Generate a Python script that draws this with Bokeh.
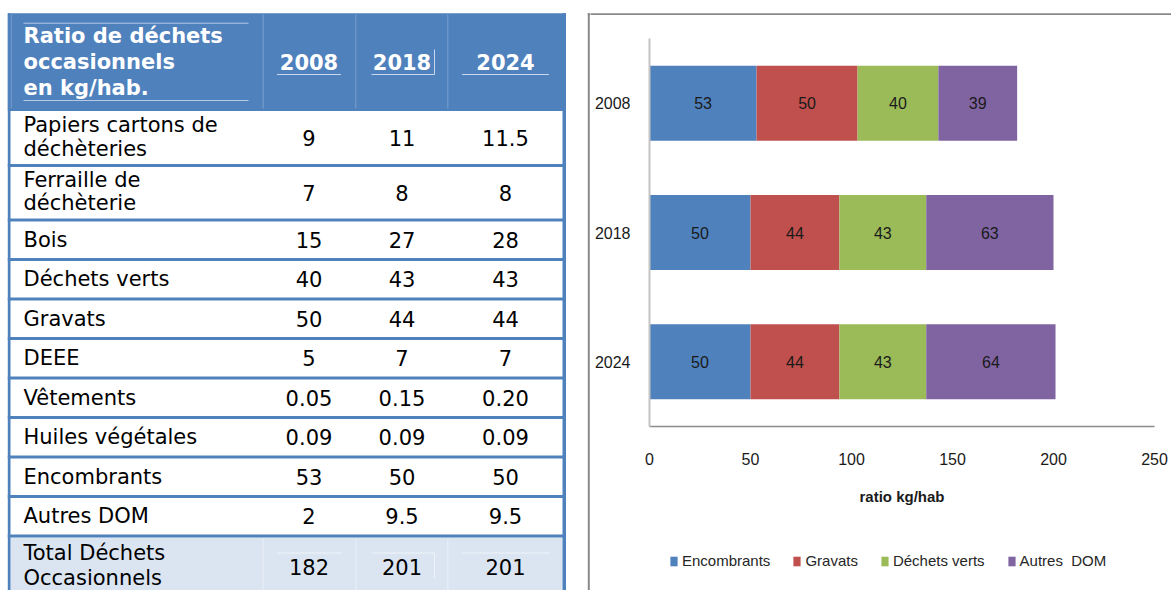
from bokeh.plotting import figure
from bokeh.models import (ColumnDataSource, Range1d, FactorRange, Legend, LegendItem, FixedTicker)
from bokeh.layouts import row, column
from bokeh.embed import file_html
from bokeh.resources import INLINE
from bokeh.core.properties import value

# ---------------- table data ----------------
table_title = ["Ratio de déchets", "occasionnels", "en kg/hab."]
years = ["2008", "2018", "2024"]
row_labels = [["Papiers cartons de", "déchèteries"], ["Ferraille de", "déchèterie"],
              ["Bois"], ["Déchets verts"], ["Gravats"], ["DEEE"], ["Vêtements"],
              ["Huiles végétales"], ["Encombrants"], ["Autres DOM"]]
vals_2008 = ["9", "7", "15", "40", "50", "5", "0.05", "0.09", "53", "2"]
vals_2018 = ["11", "8", "27", "43", "44", "7", "0.15", "0.09", "50", "9.5"]
vals_2024 = ["11.5", "8", "28", "43", "44", "7", "0.20", "0.09", "50", "9.5"]
total_label = ["Total Déchets", "Occasionnels"]
totals = ["182", "201", "201"]

# ---------------- chart data ----------------
chart_years = ["2008", "2018", "2024"]
encombrants = [53, 50, 50]
gravats = [50, 44, 44]
dechets_verts = [40, 43, 43]
autres_dom = [39, 63, 64]
series_names = ["Encombrants", "Gravats", "Déchets verts", "Autres  DOM"]
series_colors = ["#4f81bd", "#c0504d", "#9bbb59", "#8064a2"]

# ---------------- styling / layout ----------------
BLUE = "#4f81bd"
FRAME_GRAY = "#8a8a8a"
TABLE_FONT = "DejaVu Sans"
CHART_FONT = "Liberation Sans"
TW, TH = 590, 590          # table canvas (page x 0..590)
BW, BH = 581, 15           # top strip of the chart box (page y 0..15)
CW, CH = 581, 525          # chart canvas (page y 15..540)
LW, LH = 581, 50           # legend strip (page y 540..590)
BOX_X, BOX_Y = 588.3, 13.7
FS = "21px"
HEAD_LINE_H = 25.7
BODY_LINE_H = 23.5
CAP_OFF = 0.0
MULTI_OFF = -1.5
LEFT_EDGE, RIGHT_EDGE = 7.3, 565.5
HEAD_TOP, HEAD_BOT = 12.7, 110.5
ROW_H = {1: 39.5, 2: 54.5}
TOTAL_H = 61.0
LABEL_X = 23
COL_X = [308.5, 401.5, 505.0]
UNDER_HALF = [(32, 32), (30.5, 32.5), (43.5, 43.5)]
COL_SEP = [10.7, 262.7, 355.3, 447.3]


def blank(width, height, xr, yr):
    f = figure(width=width, height=height, x_range=xr, y_range=yr,
               x_axis_location=None, y_axis_location=None, output_backend="svg",
               toolbar_location=None, min_border=0, outline_line_color=None)
    f.grid.visible = False
    f.frame_align = False
    return f


# ================= TABLE FIGURE =================
t = blank(TW, TH, Range1d(0, TW), Range1d(TH, 0))

tops, bots = [], []
y = HEAD_BOT
for lab in row_labels:
    tops.append(y)
    y += ROW_H[len(lab)]
    bots.append(y)
total_top = y
total_bot = y + TOTAL_H

t.quad(left=[LEFT_EDGE], right=[RIGHT_EDGE], top=[HEAD_TOP], bottom=[HEAD_BOT],
       fill_color=BLUE, line_color=None)
t.quad(left=[10], right=[562], top=[total_top + 1.5], bottom=[TH + 10],
       fill_color="#dbe5f1", line_color=None)

t.segment(x0=COL_SEP, x1=COL_SEP, y0=[14] * 4, y1=[108] * 4, line_color="#7aa0cf", line_width=1)
t.segment(x0=[LABEL_X, LABEL_X], x1=[248, 248], y0=[22.7, 100], y1=[22.7, 100],
          line_color="#b4c9e6", line_width=1)
ux0 = [cx - a for cx, (a, b) in zip(COL_X, UNDER_HALF)]
ux1 = [cx + b for cx, (a, b) in zip(COL_X, UNDER_HALF)]
t.segment(x0=ux0, x1=ux1, y0=[74] * 3, y1=[74] * 3, line_color="#c9d8ee", line_width=1.2)
t.segment(x0=[ux1[1]], x1=[ux1[1]], y0=[49], y1=[74], line_color="#c9d8ee", line_width=1)

t.segment(x0=COL_SEP[1:], x1=COL_SEP[1:], y0=[total_top + 3] * 3, y1=[TH + 10] * 3,
          line_color="#e9eff7", line_width=1)
t.segment(x0=ux0, x1=ux1, y0=[total_top + 17] * 3, y1=[total_top + 17] * 3,
          line_color="#eef3fa", line_width=1.2)
t.segment(x0=[ux1[1]], x1=[ux1[1]], y0=[total_top + 17], y1=[total_top + 42],
          line_color="#eef3fa", line_width=1)

t.segment(x0=[LEFT_EDGE] * len(bots), x1=[RIGHT_EDGE] * len(bots), y0=bots, y1=bots,
          line_color=BLUE, line_width=3)
t.segment(x0=[8.65, 563.75], x1=[8.65, 563.75], y0=[HEAD_TOP, HEAD_TOP],
          y1=[TH + 10, TH + 10], line_color=BLUE, line_width=[2.7, 3.5])

# chart box: left edge and the start of its top edge
t.segment(x0=[BOX_X, BOX_X - 1], x1=[BOX_X, TW + 5], y0=[BOX_Y - 1, BOX_Y], y1=[TH + 10, BOX_Y],
          line_color=FRAME_GRAY, line_width=2)

hc = (HEAD_TOP + HEAD_BOT) / 2
n = len(table_title)
hy = [hc + CAP_OFF + (i - (n - 1) / 2) * HEAD_LINE_H for i in range(n)]
t.text(x=[LABEL_X] * n, y=hy, text=table_title, text_font=value(TABLE_FONT), text_font_size=FS,
       text_font_style="bold", text_color="white", text_align="left", text_baseline="alphabetic")
t.text(x=COL_X, y=[hc + CAP_OFF] * 3, text=years, text_font=value(TABLE_FONT), text_font_size=FS,
       text_font_style="bold", text_color="white", text_align="center", text_baseline="alphabetic")

lx, ly, lt = [], [], []
vx, vy, vt = [], [], []
all_labels = row_labels + [total_label]
all_tops = tops + [total_top]
all_bots = bots + [total_bot]
all_vals = [list(v) for v in zip(vals_2008, vals_2018, vals_2024)] + [totals]
for k, (lab, tp, bt, vals) in enumerate(zip(all_labels, all_tops, all_bots, all_vals)):
    c0 = (tp + bt) / 2
    n = len(lab)
    is_total = k == len(all_labels) - 1
    lh = 25.0 if is_total else BODY_LINE_H
    off = CAP_OFF if n == 1 else MULTI_OFF
    for i, s in enumerate(lab):
        lx.append(LABEL_X)
        ly.append(c0 + off + (i - (n - 1) / 2) * lh)
        lt.append(s)
    for cx, v in zip(COL_X, vals):
        vx.append(cx)
        vy.append(c0 + CAP_OFF)
        vt.append(v)
t.text(x=lx, y=ly, text=lt, text_font=value(TABLE_FONT), text_font_size=FS,
       text_color="black", text_align="left", text_baseline="alphabetic")
t.text(x=vx, y=vy, text=vt, text_font=value(TABLE_FONT), text_font_size=FS,
       text_color="black", text_align="center", text_baseline="alphabetic")

# ================= TOP STRIP (top edge of the chart box) =================
tb = blank(BW, BH, Range1d(TW, TW + BW), Range1d(BH, 0))
tb.segment(x0=[TW - 5], x1=[TW + BW + 5], y0=[BOX_Y], y1=[BOX_Y], line_color=FRAME_GRAY, line_width=2)

# ================= CHART FIGURE =================
c = figure(width=CW, height=CH, x_range=Range1d(0, 250),
           y_range=FactorRange(factors=chart_years[::-1]),
           output_backend="svg", toolbar_location=None,
           min_border_left=59, min_border_right=17, min_border_top=23, min_border_bottom=114,
           outline_line_color=None)
c.frame_align = False
c.xgrid.visible = False
c.ygrid.visible = False

src = ColumnDataSource(dict(year=chart_years, enc=encombrants, grav=gravats,
                            dv=dechets_verts, aut=autres_dom))
keys = ["enc", "grav", "dv", "aut"]
rs = c.hbar_stack(keys, y="year", height=0.58, fill_color=series_colors, line_color=None, source=src)

lab_x, lab_y, lab_t = [], [], []
for i, yr in enumerate(chart_years):
    left = 0
    for arr in (encombrants, gravats, dechets_verts, autres_dom):
        v = arr[i]
        lab_x.append(left + v / 2)
        lab_y.append(yr)
        lab_t.append(str(v))
        left += v
c.text(x=lab_x, y=lab_y, text=lab_t, text_align="center", text_baseline="middle",
       text_font=value(CHART_FONT), text_font_size="16px", text_color="#1a1a1a")

xa = c.xaxis[0]
xa.ticker = FixedTicker(ticks=[0, 50, 100, 150, 200, 250])
xa.major_tick_line_color = None
xa.minor_tick_line_color = None
xa.axis_line_color = "#8c8c8c"
xa.axis_line_width = 1.5
xa.major_label_text_font = CHART_FONT
xa.major_label_text_font_size = "16px"
xa.major_label_text_color = "#1a1a1a"
xa.major_label_standoff = 20
xa.axis_label = "ratio kg/hab"
xa.axis_label_text_font = CHART_FONT
xa.axis_label_text_font_size = "15px"
xa.axis_label_text_font_style = "bold"
xa.axis_label_text_color = "#1a1a1a"
xa.axis_label_standoff = 20

ya = c.yaxis[0]
ya.major_tick_line_color = None
ya.minor_tick_line_color = None
ya.axis_line_color = "#c4c4c4"
ya.axis_line_width = 2
ya.major_label_text_font = CHART_FONT
ya.major_label_text_font_size = "16px"
ya.major_label_text_color = "#1a1a1a"
ya.major_label_standoff = 13

# ================= LEGEND STRIP =================
lg = blank(LW, LH, Range1d(0, 1), Range1d(0, 1))
lg_items = []
for nm, col in zip(series_names, series_colors):
    # swatch renderer kept outside the visible range: only its legend glyph shows
    r = lg.quad(left=[2], right=[3], top=[3], bottom=[2], fill_color=col, line_color=None)
    lg_items.append(LegendItem(label=nm, renderers=[r]))
legend = Legend(items=lg_items, orientation="horizontal", location=(79, 21),
                glyph_width=9, glyph_height=12, label_standoff=4, spacing=22,
                padding=0, margin=0, border_line_color=None, background_fill_alpha=0,
                label_text_font=CHART_FONT, label_text_font_size="15px",
                label_text_color="#262626", label_height=14)
lg.add_layout(legend)

layout = row(t, column(tb, c, lg))
tmpl = "{% block preamble %}<style>html, body { overflow: hidden; }</style>{% endblock %}"
open("out.html", "w").write(file_html(layout, INLINE, template=tmpl))
